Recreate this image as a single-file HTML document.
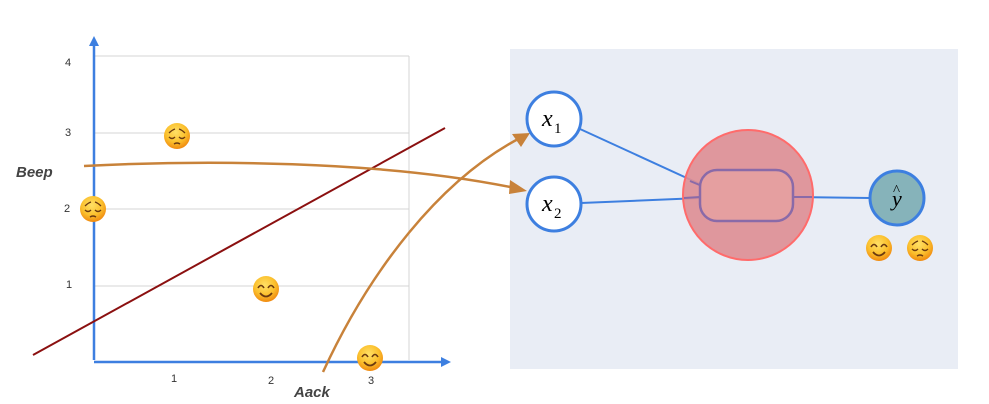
<!DOCTYPE html>
<html><head><meta charset="utf-8"><style>
html,body{margin:0;padding:0;background:#fff;}
svg{display:block;font-family:"Liberation Sans",sans-serif;}
</style></head><body>
<svg width="989" height="404" viewBox="0 0 989 404" xmlns="http://www.w3.org/2000/svg">
<defs>
<radialGradient id="em" cx="45%" cy="35%" r="65%">
<stop offset="0" stop-color="#ffe066"/><stop offset="0.6" stop-color="#fbc02d"/><stop offset="1" stop-color="#f08a10"/>
</radialGradient>
<g id="sad">
<circle r="13" fill="url(#em)"/>
<path d="M-8,-3 q3,-3 6,-4 M8,-3 q-3,-3 -6,-4" stroke="#6b3a10" stroke-width="1.3" fill="none"/>
<path d="M-8,1 q3,3 6,0 M8,1 q-3,3 -6,0" stroke="#6b3a10" stroke-width="1.4" fill="none"/>
<path d="M-3,8 q3,-2 6,0" stroke="#6b3a10" stroke-width="1.4" fill="none"/>
</g>
<g id="happy">
<circle r="13" fill="url(#em)"/>
<path d="M-8,-1 q3,-5 6,0 M8,-1 q-3,-5 -6,0" stroke="#6b3a10" stroke-width="1.6" fill="none"/>
<path d="M-6,4 q6,7 12,0" stroke="#6b3a10" stroke-width="1.8" fill="none"/>
</g>
</defs>
<rect x="510" y="49" width="448" height="320" fill="#e9edf5"/>
<g stroke="#d4d4d4" stroke-width="1" fill="none">
<line x1="94" y1="56" x2="409" y2="56"/>
<line x1="94" y1="133" x2="409" y2="133"/>
<line x1="94" y1="209" x2="409" y2="209"/>
<line x1="94" y1="286" x2="409" y2="286"/>
<line x1="409" y1="56" x2="409" y2="360"/>
</g>
<g stroke="#3d7fe0" stroke-width="2.5">
<line x1="94" y1="360" x2="94" y2="44"/>
<line x1="94" y1="362" x2="444" y2="362"/>
</g>
<polygon points="94,36 89,46 99,46" fill="#3d7fe0"/>
<polygon points="451,362 441,357 441,367" fill="#3d7fe0"/>
<g font-size="11" fill="#333">
<text x="65" y="66">4</text><text x="65" y="136">3</text><text x="64" y="212">2</text><text x="66" y="288">1</text>
<text x="171" y="382">1</text><text x="268" y="384">2</text><text x="368" y="384">3</text>
</g>
<g font-size="15" font-weight="bold" font-style="italic" fill="#444">
<text x="16" y="177">Beep</text><text x="294" y="397">Aack</text>
</g>
<line x1="33" y1="355" x2="445" y2="128" stroke="#8b1010" stroke-width="2"/>
<g stroke="#c8823a" stroke-width="2.5" fill="none">
<path d="M84,166 C200,160 380,160 515,188"/>
<path d="M323,372 C370,270 440,180 520,138"/>
</g>
<polygon points="530,133 512,134 521,147" fill="#c8823a"/>
<polygon points="527,191 510,180 509,194" fill="#c8823a"/>
<use href="#sad" x="177" y="136"/>
<use href="#sad" x="93" y="209"/>
<use href="#happy" x="266" y="289"/>
<use href="#happy" x="370" y="358"/>
<g stroke="#3d7fe0" stroke-width="2">
<line x1="580" y1="129" x2="702" y2="185"/>
<line x1="581" y1="203" x2="700" y2="198"/>
<line x1="793" y1="197" x2="870" y2="198"/>
</g>
<circle cx="748" cy="195" r="65" fill="#de8d93" fill-opacity="0.9" stroke="#ff6b6b" stroke-width="2"/>
<line x1="690" y1="181" x2="702" y2="186" stroke="#8a6aa8" stroke-width="2"/>
<line x1="684" y1="198" x2="700" y2="197" stroke="#8a6aa8" stroke-width="2"/>
<line x1="793" y1="197" x2="812" y2="197" stroke="#8a6aa8" stroke-width="2"/>
<rect x="700" y="170" width="93" height="51" rx="17" fill="#e59fa0" stroke="#8a6aa8" stroke-width="2.5"/>
<circle cx="554" cy="119" r="27" fill="#fff" stroke="#3d7fe0" stroke-width="3"/>
<circle cx="554" cy="204" r="27" fill="#fff" stroke="#3d7fe0" stroke-width="3"/>
<circle cx="897" cy="198" r="27" fill="#86b3ba" stroke="#3d7fe0" stroke-width="3"/>
<g font-family="Liberation Serif,serif" font-style="italic" fill="#000">
<text x="542" y="126" font-size="24">x</text><text x="554" y="133" font-size="15" font-style="normal">1</text>
<text x="542" y="211" font-size="24">x</text><text x="554" y="218" font-size="15" font-style="normal">2</text>
<text x="892" y="206" font-size="22">y</text><text x="893" y="195" font-size="15" font-style="normal">^</text>
</g>
<use href="#happy" x="879" y="248"/>
<use href="#sad" x="920" y="248"/>
</svg>
</body></html>
